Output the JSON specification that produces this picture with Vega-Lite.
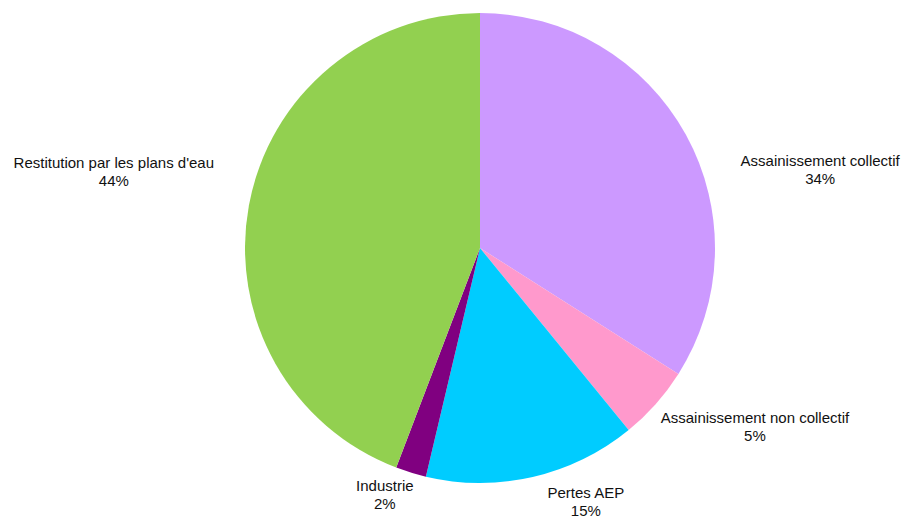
{
  "$schema": "https://vega.github.io/schema/vega-lite/v6.json",
  "autosize": "none",
  "width": 850,
  "height": 496,
  "padding": {"left": 55, "top": 0, "right": 0, "bottom": 22},
  "background": "white",
  "view": {"stroke": null},
  "config": {"text": {"font": "Liberation Sans", "fontSize": 15, "lineHeight": 18, "color": "#111111", "align": "center", "baseline": "middle", "lineBreak": "\n", "dy": -9}},
  "data": {
    "values": [
      {"cat": "Assainissement collectif", "v": 0.340, "order": 1},
      {"cat": "Assainissement non collectif", "v": 0.051, "order": 2},
      {"cat": "Pertes AEP", "v": 0.146, "order": 3},
      {"cat": "Industrie", "v": 0.021, "order": 4},
      {"cat": "Restitution par les plans d'eau", "v": 0.442, "order": 5}
    ]
  },
  "transform": [
    {"stack": "v", "groupby": [], "sort": [{"field": "order", "order": "ascending"}], "as": ["v0", "v1"]},
    {"calculate": "(datum.v0 + datum.v1) / 2", "as": "mid"},
    {"calculate": "datum.cat + '\\n' + format(datum.v, '.0%')", "as": "label"}
  ],
  "layer": [
    {
      "mark": {"type": "arc", "outerRadius": 235, "stroke": null},
      "encoding": {
        "theta": {"field": "v0", "type": "quantitative", "scale": {"domain": [0, 1], "range": [0, 6.283185307179586]}},
        "theta2": {"field": "v1"},
        "color": {
          "field": "cat",
          "type": "nominal",
          "scale": {
            "domain": ["Assainissement collectif", "Assainissement non collectif", "Pertes AEP", "Industrie", "Restitution par les plans d'eau"],
            "range": ["#CC99FF", "#FF99CC", "#00CCFF", "#800080", "#92D050"]
          },
          "legend": null
        }
      }
    },
    {
      "transform": [{"filter": {"field": "cat", "equal": "Assainissement collectif"}}],
      "mark": {"type": "text", "radius": 349, "thetaOffset": 0.277},
      "encoding": {
        "theta": {"field": "mid", "type": "quantitative", "scale": {"domain": [0, 1], "range": [0, 6.283185307179586]}},
        "text": {"field": "label"}
      }
    },
    {
      "transform": [{"filter": {"field": "cat", "equal": "Assainissement non collectif"}}],
      "mark": {"type": "text", "radius": 328, "thetaOffset": -0.149},
      "encoding": {
        "theta": {"field": "mid", "type": "quantitative", "scale": {"domain": [0, 1], "range": [0, 6.283185307179586]}},
        "text": {"field": "label"}
      }
    },
    {
      "transform": [{"filter": {"field": "cat", "equal": "Pertes AEP"}}],
      "mark": {"type": "text", "radius": 275, "thetaOffset": -0.169},
      "encoding": {
        "theta": {"field": "mid", "type": "quantitative", "scale": {"domain": [0, 1], "range": [0, 6.283185307179586]}},
        "text": {"field": "label"}
      }
    },
    {
      "transform": [{"filter": {"field": "cat", "equal": "Industrie"}}],
      "mark": {"type": "text", "radius": 265, "thetaOffset": 0.069},
      "encoding": {
        "theta": {"field": "mid", "type": "quantitative", "scale": {"domain": [0, 1], "range": [0, 6.283185307179586]}},
        "text": {"field": "label"}
      }
    },
    {
      "transform": [{"filter": {"field": "cat", "equal": "Restitution par les plans d'eau"}}],
      "mark": {"type": "text", "radius": 374, "thetaOffset": 0.0225},
      "encoding": {
        "theta": {"field": "mid", "type": "quantitative", "scale": {"domain": [0, 1], "range": [0, 6.283185307179586]}},
        "text": {"field": "label"}
      }
    }
  ]
}
